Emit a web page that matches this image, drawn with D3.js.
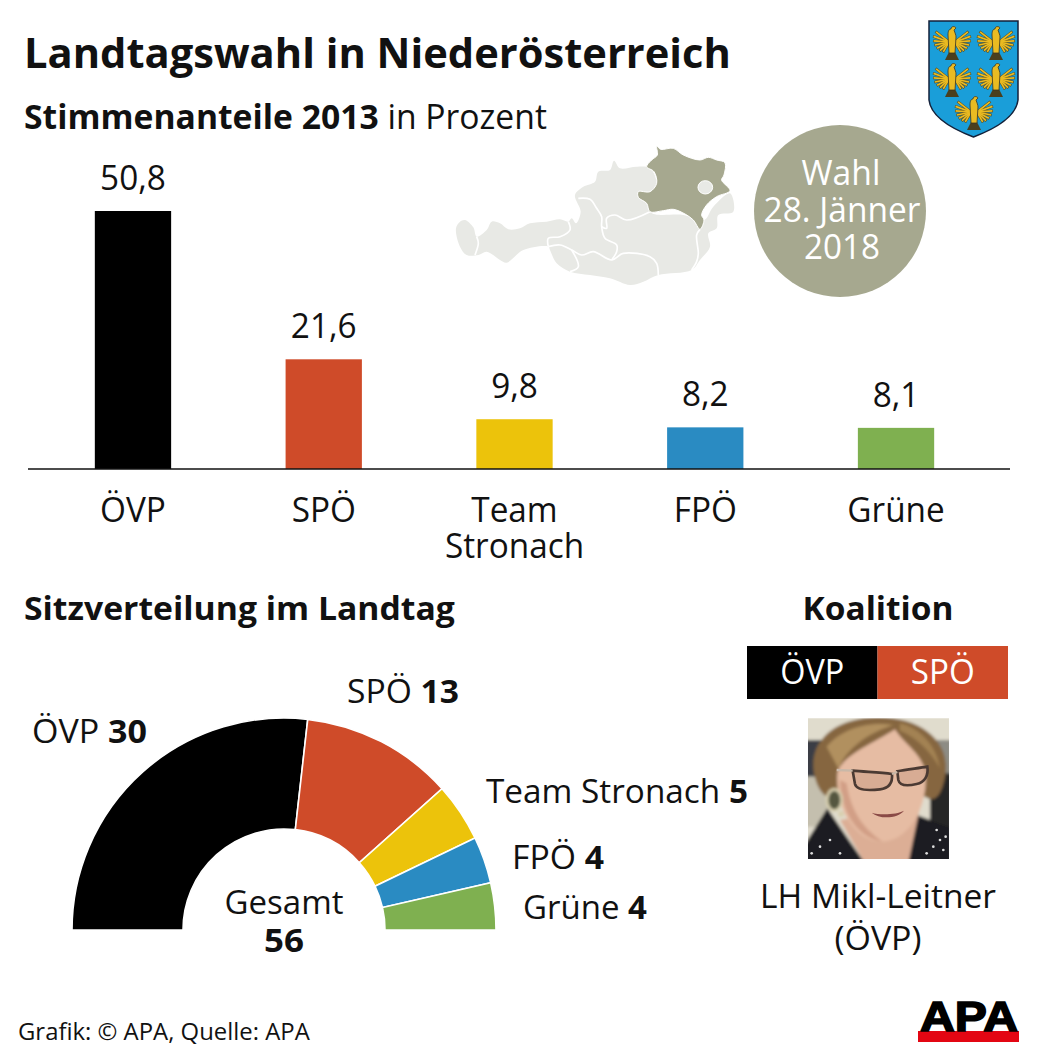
<!DOCTYPE html>
<html>
<head>
<meta charset="utf-8">
<title>Landtagswahl in Niederösterreich</title>
<style type="text/css">
	html, body { margin: 0; padding: 0; background: #fff; }
	svg { display: block; }
	text { font-family: "Open Sans", "Noto Sans", sans-serif; fill: #111; }
</style>
<script src="https://cdn.jsdelivr.net/npm/d3@7"></script>
</head>
<body>
<div id="container"></div>
<script type="text/javascript">
var parties = ['ÖVP', 'SPÖ', 'Team Stronach', 'FPÖ', 'Grüne'];
var voteShares = [50.8, 21.6, 9.8, 8.2, 8.1];
var seats = [30, 13, 5, 4, 4];
var seatTotal = 56;
var partyColors = ['#000000', '#cf4b29', '#ecc30b', '#2a8bc2', '#7fb050'];
var coalition = ['ÖVP', 'SPÖ'];
var coalitionColors = ['#000000', '#cf4b29'];

var sage = '#a6a88f', pale = '#e8e9e5';

var svg = d3.select('#container').append('svg')
	.attr('width', 1040)
	.attr('height', 1060);

// text squeezed to the reference width, Myriad is not installed
function label(parent, parts, x, y, size, width, anchor, color) {
	var t = parent.append('text')
		.attr('font-size', size)
		.attr('text-anchor', anchor || 'start');
	parts.forEach(function (p) {
		t.append('tspan')
			.attr('font-weight', p[1] ? 700 : 400)
			.style('fill', color || null)
			.text(p[0]);
	});
	var sx = width ? width / t.node().getComputedTextLength() : 0.98;
	t.attr('transform', 'translate(' + x + ',' + y + ') scale(' + sx + ',1)');
	return t;
}

label(svg, [['Landtagswahl in Niederösterreich', 1]], 24, 68, 41, 707);
label(svg, [['Stimmenanteile 2013', 1], [' in Prozent', 0]], 24, 129, 34, 523);

// ---- bars
var x = d3.scaleBand().domain(parties).range([37.6, 991.4]).paddingInner(0.6).paddingOuter(0.3);
var y = d3.scaleLinear().domain([0, 50.8]).range([469, 211]);

svg.append('g').selectAll('rect')
	.data(parties)
	.enter().append('rect')
	.attr('x', function (d) { return x(d); })
	.attr('width', x.bandwidth())
	.attr('y', function (d, i) { return y(voteShares[i]); })
	.attr('height', function (d, i) { return y(0) - y(voteShares[i]); })
	.attr('fill', function (d, i) { return partyColors[i]; });

parties.forEach(function (d, i) {
	label(svg, [[String(voteShares[i]).replace('.', ','), 0]], x(d) + x.bandwidth() / 2, y(voteShares[i]) - 21, 34, 0, 'middle');
});

var axis = svg.append('g')
	.attr('transform', 'translate(0,' + y(0) + ')')
	.call(d3.axisBottom(x).tickSize(0).tickPadding(0));
axis.select('.domain').remove();
axis.selectAll('.tick text').remove();
axis.selectAll('.tick').each(function (d) {
	var words = d.split(' ');
	var g = d3.select(this);
	words.forEach(function (w, i) {
		label(g, [[w, 0]], 0, 53 + i * 36, 34, 0, 'middle');
	});
});
svg.append('line')
	.attr('x1', 28).attr('x2', 1010)
	.attr('y1', y(0)).attr('y2', y(0))
	.attr('stroke', '#111').attr('stroke-width', 1.6);

// ---- map of Austria
var mapGroup = svg.append('g').attr('transform', 'translate(450,140) scale(0.3333)');
var mapLine = d3.line().curve(d3.curveCatmullRomClosed.alpha(0.5));
var openLine = d3.line().curve(d3.curveCatmullRom.alpha(0.5));
var austria = [[18,265],[30,245],[45,240],[70,262],[80,290],[110,270],[125,245],[150,250],[175,268],[210,265],[240,250],[290,245],[330,238],[355,245],[365,235],[378,250],[392,215],[375,165],[400,140],[435,125],[445,95],[480,90],[492,62],[510,85],[560,80],[600,85],[620,130],[600,215],[700,225],[762,240],[790,200],[840,160],[850,215],[805,225],[800,265],[775,280],[780,320],[750,360],[725,390],[625,405],[580,425],[540,435],[480,415],[420,405],[360,395],[320,370],[300,330],[295,320],[220,330],[170,368],[150,360],[110,335],[85,345],[50,345],[30,320]];
var lowerAustria = [[620,18],[632,28],[670,25],[700,45],[750,60],[775,52],[800,60],[825,68],[822,105],[815,120],[840,152],[800,170],[770,195],[755,225],[762,240],[750,268],[730,240],[705,222],[670,208],[640,212],[600,215],[590,190],[565,172],[565,155],[600,155],[620,130],[612,95],[590,80],[605,60],[622,45]];
var borders = [
	[[80,290],[85,310],[75,345]],
	[[295,320],[295,295],[330,290],[360,270],[355,245]],
	[[385,175],[420,178],[440,205],[455,230],[455,260],[465,295],[500,315],[500,335],[485,360]],
	[[295,320],[330,315],[365,330],[395,345],[430,335],[485,360],[520,340],[600,350],[620,370],[625,405]],
	[[365,330],[385,380],[360,395]],
	[[455,260],[470,265],[470,235],[495,225],[530,240],[600,215]],
	[[750,268],[740,285],[745,340],[740,365],[725,390]]
];
mapGroup.append('path').attr('d', mapLine(austria)).attr('fill', pale);
borders.forEach(function (b) {
	mapGroup.append('path').attr('d', openLine(b)).attr('fill', 'none').attr('stroke', '#fff').attr('stroke-width', 5);
});
mapGroup.append('path').attr('d', mapLine(lowerAustria)).attr('fill', sage).attr('stroke', '#fff').attr('stroke-width', 3);
mapGroup.append('ellipse').attr('cx', 766).attr('cy', 142).attr('rx', 22).attr('ry', 20).attr('fill', pale).attr('stroke', '#fff').attr('stroke-width', 3);

// ---- date bubble
svg.append('circle').attr('cx', 840).attr('cy', 211).attr('r', 86).attr('fill', sage);
label(svg, [['Wahl', 0]], 841, 185, 34, 79, 'middle', '#fff');
label(svg, [['28. Jänner', 0]], 842, 222, 34, 157, 'middle', '#fff');
label(svg, [['2018', 0]], 842, 259, 34, 76, 'middle', '#fff');

// ---- coat of arms
var shield = svg.append('g');
shield.append('path')
	.attr('d', 'M929,21H1018V100C1016,118 992,130 973.5,137C955,130 931,118 929,100Z')
	.attr('fill', '#1a9ed9').attr('stroke', '#14213a').attr('stroke-width', 1.5);
var eagleSpots = [[952,43],[996,43],[952,80],[996,80],[974,113]];
var featherAngles = [-38, -20, -4, 12, 28, 44, 60];
eagleSpots.forEach(function (p) {
	var e = shield.append('g').attr('transform', 'translate(' + p[0] + ',' + p[1] + ')');
	[-1, 1].forEach(function (side) {
		['#5a4a1c', '#eabb22'].forEach(function (col, layer) {
			featherAngles.forEach(function (a, k) {
				var r = (k < 2 ? 17 : 18 - k) - layer * 0.6;
				var rad = a * Math.PI / 180;
				e.append('line')
					.attr('x1', side * 3).attr('y1', -1)
					.attr('x2', side * (3 + r * Math.cos(rad))).attr('y2', -1 + r * Math.sin(rad))
					.attr('stroke', col)
					.attr('stroke-width', layer ? 1.7 : 2.7);
			});
		});
	});
	e.append('path').attr('d', 'M-3,9L-7,17H7L3,9Z').attr('fill', '#4a3f1e');
	e.append('path').attr('d', 'M-4,-8C-4,-12 -3,-14 -1,-14C-1,-17 3,-17 4,-15L2,-13C3,-10 4,-8 4,-6L3,10H-3Z')
		.attr('fill', '#eabb22').attr('stroke', '#3b3320').attr('stroke-width', 0.8);
});

// ---- seats half donut
label(svg, [['Sitzverteilung im Landtag', 1]], 24, 620, 32, 431);
label(svg, [['Koalition', 1]], 878, 620, 32, 151, 'middle');

var pie = d3.pie().sort(null).startAngle(-Math.PI / 2).endAngle(Math.PI / 2);
var arc = d3.arc().innerRadius(101).outerRadius(212);
svg.append('g')
	.attr('transform', 'translate(284,930)')
	.selectAll('path')
	.data(pie(seats))
	.enter().append('path')
	.attr('d', arc)
	.attr('fill', function (d, i) { return partyColors[i]; })
	.attr('stroke', '#fff')
	.attr('stroke-width', 1.6);

var seatSpots = [[32,743,115],[347,703,112],[486,803,262],[512,869,92],[523,919,124]];
parties.forEach(function (d, i) {
	var s = seatSpots[i];
	label(svg, [[d + ' ', 0], [String(seats[i]), 1]], s[0], s[1], 33, s[2]);
});
label(svg, [['Gesamt', 0]], 284, 914, 33, 119, 'middle');
label(svg, [[String(seatTotal), 1]], 284, 952, 33, 40, 'middle');

// ---- coalition
var cx = d3.scaleBand().domain(coalition).range([747, 1008]);
coalition.forEach(function (d, i) {
	svg.append('rect')
		.attr('x', cx(d)).attr('y', 646)
		.attr('width', cx.bandwidth()).attr('height', 53)
		.attr('fill', coalitionColors[i]);
	label(svg, [[d, 0]], cx(d) + cx.bandwidth() / 2, 684, 34, 64, 'middle', '#fff');
});

// ---- portrait, drawn with plain shapes and a little blur
var defs = svg.append('defs');
defs.append('clipPath').attr('id', 'photoClip').append('rect')
	.attr('x', 204).attr('y', 235).attr('width', 423).attr('height', 422);
defs.append('filter').attr('id', 'soft').append('feGaussianBlur').attr('stdDeviation', 5);
var photo = svg.append('g')
	.attr('transform', 'translate(740,640) scale(0.3333)')
	.attr('clip-path', 'url(#photoClip)')
	.append('g').attr('filter', 'url(#soft)');
function shape(d, fill) {
	return photo.append('path').attr('d', d).attr('fill', fill);
}
shape('M190,220H640V670H190Z', '#e0dccd');
shape('M190,300H262V410H190Z', '#3a3d44');
shape('M190,410H262V560H190Z', '#c4bfae');
shape('M570,300H640V400H570Z', '#8d8c84');
shape('M570,400H640V570H570Z', '#262628');
shape('M190,670V620L262,505L320,590L375,670Z', '#1d1c20');
shape('M490,670L530,525L640,565V670Z', '#1d1c20');
shape('M300,540L540,500L505,670H375Z', '#dcae95');
shape('M222,400C205,300 290,232 415,232C550,232 635,310 615,410C605,465 585,490 556,470L300,470C265,490 232,455 222,400Z', '#86663f');
shape('M260,320C310,262 390,245 460,255C400,275 330,310 295,385Z', '#b1905f');
shape('M480,250C535,262 590,315 600,385C570,330 525,290 480,272Z', '#a38252');
shape('M292,400C300,350 400,310 465,268C490,310 545,340 556,395C566,480 520,600 428,605C340,605 285,500 292,400Z', '#e6bca3');
shape('M300,420C302,500 340,590 428,605C360,560 330,500 320,430Z', '#d29f86');
photo.append('ellipse').attr('cx', 283).attr('cy', 480).attr('rx', 22).attr('ry', 32).attr('fill', '#55573f').attr('stroke', '#d8cfae').attr('stroke-width', 8);
photo.append('circle').attr('cx', 303).attr('cy', 522).attr('r', 9).attr('fill', '#d8cfae');
// glasses and mouth stay sharper than the rest, they carry the face
var crisp = svg.select('g[clip-path]');
crisp.append('path')
	.attr('d', 'M338,392C375,396 420,396 456,402C458,425 450,445 420,448C385,452 350,452 345,432ZM472,394C500,388 535,385 562,380C566,405 555,428 530,432C505,438 480,440 475,420Z')
	.attr('fill', '#d3a78f').attr('fill-opacity', 0.75)
	.attr('stroke', '#4b3a33').attr('stroke-width', 8);
crisp.append('path').attr('d', 'M290,390L338,392M456,402L472,396').attr('stroke', '#c9b8a8').attr('stroke-width', 7).attr('fill', 'none');
crisp.append('path').attr('d', 'M395,518C420,526 470,524 492,512C475,535 420,540 395,518Z').attr('fill', '#8a4a46');
[[215,640],[240,620],[590,570],[600,600],[610,630],[560,640],[300,640],[270,600],[580,620],[617,590]].forEach(function (p) {
	crisp.append('circle').attr('cx', p[0]).attr('cy', p[1]).attr('r', 4).attr('fill', '#ddd');
});

label(svg, [['LH Mikl-Leitner', 0]], 878, 908, 33, 236, 'middle');
label(svg, [['(ÖVP)', 0]], 878, 950, 33, 87, 'middle');

// ---- footer
label(svg, [['Grafik: © APA, Quelle: APA', 0]], 18, 1040, 24, 292);
svg.append('rect').attr('x', 918).attr('y', 1031).attr('width', 101).attr('height', 11).attr('fill', '#e30613');
var apa = svg.append('text')
	.attr('font-size', 43)
	.attr('font-weight', 700)
	.style('font-family', '"Liberation Sans", sans-serif')
	.attr('stroke', '#000')
	.attr('stroke-width', 1.6)
	.style('fill', '#000')
	.text('APA');
apa.attr('transform', 'translate(920,1031) scale(' + (98 / apa.node().getComputedTextLength()) + ',1)');
</script>
</body>
</html>
